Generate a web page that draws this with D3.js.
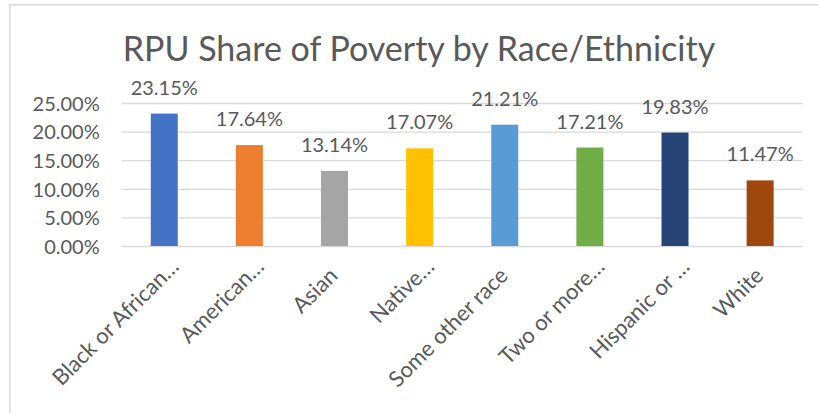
<!DOCTYPE html>
<html>
<head>
<meta charset="utf-8">
<script src="https://cdn.jsdelivr.net/npm/d3@7"></script>
<style>
  html, body { margin: 0; padding: 0; background: #fff; }
  svg { display: block; }
  text { font-family: Lato, "Open Sans", sans-serif; fill: #595959; }
</style>
</head>
<body>
<svg id="chart" width="818" height="413"></svg>
<script>
const title = "RPU Share of Poverty by Race/Ethnicity";
const categories = ["Black or African…", "American…", "Asian", "Native…", "Some other race", "Two or more…", "Hispanic or …", "White"];
const values = [0.2315, 0.1764, 0.1314, 0.1707, 0.2121, 0.1721, 0.1983, 0.1147];
const colors = ["#4472C4", "#ED7D31", "#A5A5A5", "#FFC000", "#5B9BD5", "#70AD47", "#264478", "#9E480E"];
const yTicks = [0, 0.05, 0.10, 0.15, 0.20, 0.25];

const svg = d3.select("#chart");
const W = 818, H = 413;

// chart border (left and top visible)
svg.append("path")
  .attr("d", `M9.75,${H} L9.75,4.75 L${W},4.75`)
  .attr("fill", "none").attr("stroke", "#D9D9D9").attr("stroke-width", 1.5);

const x = d3.scaleBand().domain(categories).range([121.7, 802.7])
  .paddingInner(0.683).paddingOuter(0.3415);
const y = d3.scaleLinear().domain([0, 0.25]).range([246, 103]);

// gridlines + y tick labels
const yAxis = d3.axisLeft(y).tickValues(yTicks)
  .tickSize(-(802.7 - 121.7)).tickPadding(22)
  .tickFormat(d3.format(".2%"));
const gy = svg.append("g").attr("transform", "translate(121.7,0)").call(yAxis);
gy.select(".domain").remove();
gy.selectAll(".tick line").attr("stroke", "#D9D9D9").attr("stroke-width", 1.3);
gy.selectAll(".tick text")
  .attr("dy", "0.36em")
  .style("font-size", "20px").style("fill", "#595959")
  .style("font-family", "Lato, sans-serif");

// bars
svg.append("g").selectAll("rect").data(values).join("rect")
  .attr("x", (d, i) => x(categories[i]))
  .attr("width", x.bandwidth())
  .attr("y", d => y(d))
  .attr("height", d => y(0) - y(d))
  .attr("fill", (d, i) => colors[i]);

// data labels
svg.append("g").selectAll("text").data(values).join("text")
  .attr("x", (d, i) => x(categories[i]) + x.bandwidth() / 2)
  .attr("y", d => y(d) - 19)
  .attr("text-anchor", "middle")
  .style("font-size", "20px")
  .text(d => d3.format(".2%")(d));

// category labels
svg.append("g").selectAll("text").data(categories).join("text")
  .attr("transform", d => {
    const c = x(d) + x.bandwidth() / 2;
    const trunc = d.endsWith("…");
    return trunc ? `translate(${c + 16},268) rotate(-45)` : `translate(${c + 4.5},277) rotate(-45)`;
  })
  .attr("text-anchor", "end")
  .style("font-size", "22px")
  .text(d => d);

// title
svg.append("text")
  .attr("x", 419).attr("y", 61)
  .attr("text-anchor", "middle")
  .style("font-size", "34px")
  .text(title);
</script>
</body>
</html>
